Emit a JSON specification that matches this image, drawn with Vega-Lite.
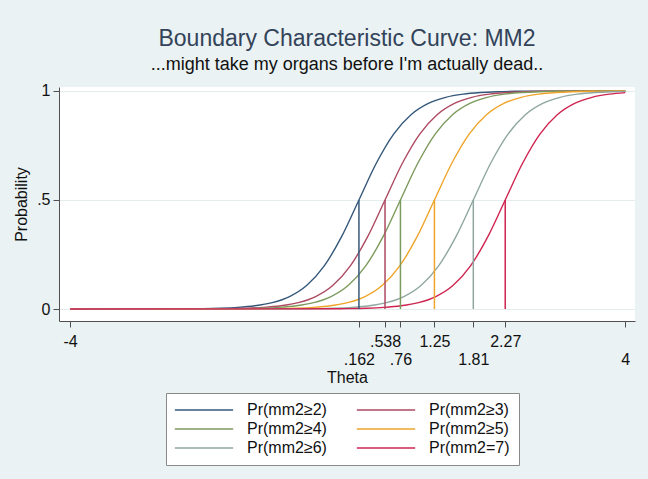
{
  "$schema": "https://vega.github.io/schema/vega-lite/v6.json",
  "autosize": {"type": "none"},
  "padding": {"left": 59, "top": 87, "right": 13, "bottom": 158},
  "width": 576,
  "height": 234,
  "background": "#eaf2f3",
  "view": {"fill": "white", "stroke": null},
  "config": {
    "font": "Liberation Sans",
    "axis": {"labelFont": "Liberation Sans", "titleFont": "Liberation Sans", "labelFontSize": 16, "titleFontSize": 16, "titleFontWeight": "normal", "labelColor": "#111111", "titleColor": "#111111", "domainColor": "#505050", "tickColor": "#505050", "tickSize": 6}
  },
  "title": {
    "text": "Boundary Characteristic Curve: MM2",
    "subtitle": "...might take my organs before I'm actually dead..",
    "anchor": "middle",
    "font": "Liberation Sans",
    "fontSize": 23,
    "fontWeight": "normal",
    "color": "#33435a",
    "subtitleFont": "Liberation Sans",
    "subtitleFontSize": 18,
    "subtitleColor": "#111111",
    "subtitlePadding": 5,
    "offset": 9
  },
  "datasets": {
    "curves": [
      {"curve": "Pr(mm2≥2)", "theta": -4, "p": 0},
      {"curve": "Pr(mm2≥2)", "theta": -2.338, "p": 0.0009},
      {"curve": "Pr(mm2≥2)", "theta": -2.088, "p": 0.0018},
      {"curve": "Pr(mm2≥2)", "theta": -1.838, "p": 0.0037},
      {"curve": "Pr(mm2≥2)", "theta": -1.588, "p": 0.0074},
      {"curve": "Pr(mm2≥2)", "theta": -1.338, "p": 0.0148},
      {"curve": "Pr(mm2≥2)", "theta": -1.088, "p": 0.0293},
      {"curve": "Pr(mm2≥2)", "theta": -0.838, "p": 0.0573},
      {"curve": "Pr(mm2≥2)", "theta": -0.588, "p": 0.1091},
      {"curve": "Pr(mm2≥2)", "theta": -0.338, "p": 0.1978},
      {"curve": "Pr(mm2≥2)", "theta": -0.088, "p": 0.3318},
      {"curve": "Pr(mm2≥2)", "theta": 0.162, "p": 0.5},
      {"curve": "Pr(mm2≥2)", "theta": 0.412, "p": 0.6682},
      {"curve": "Pr(mm2≥2)", "theta": 0.662, "p": 0.8022},
      {"curve": "Pr(mm2≥2)", "theta": 0.912, "p": 0.8909},
      {"curve": "Pr(mm2≥2)", "theta": 1.162, "p": 0.9427},
      {"curve": "Pr(mm2≥2)", "theta": 1.412, "p": 0.9707},
      {"curve": "Pr(mm2≥2)", "theta": 1.662, "p": 0.9852},
      {"curve": "Pr(mm2≥2)", "theta": 1.912, "p": 0.9926},
      {"curve": "Pr(mm2≥2)", "theta": 2.162, "p": 0.9963},
      {"curve": "Pr(mm2≥2)", "theta": 2.412, "p": 0.9982},
      {"curve": "Pr(mm2≥2)", "theta": 2.662, "p": 0.9991},
      {"curve": "Pr(mm2≥2)", "theta": 4, "p": 1.0},

      {"curve": "Pr(mm2≥3)", "theta": -4, "p": 0},
      {"curve": "Pr(mm2≥3)", "theta": -1.962, "p": 0.0009},
      {"curve": "Pr(mm2≥3)", "theta": -1.712, "p": 0.0018},
      {"curve": "Pr(mm2≥3)", "theta": -1.462, "p": 0.0037},
      {"curve": "Pr(mm2≥3)", "theta": -1.212, "p": 0.0074},
      {"curve": "Pr(mm2≥3)", "theta": -0.962, "p": 0.0148},
      {"curve": "Pr(mm2≥3)", "theta": -0.712, "p": 0.0293},
      {"curve": "Pr(mm2≥3)", "theta": -0.462, "p": 0.0573},
      {"curve": "Pr(mm2≥3)", "theta": -0.212, "p": 0.1091},
      {"curve": "Pr(mm2≥3)", "theta": 0.038, "p": 0.1978},
      {"curve": "Pr(mm2≥3)", "theta": 0.288, "p": 0.3318},
      {"curve": "Pr(mm2≥3)", "theta": 0.538, "p": 0.5},
      {"curve": "Pr(mm2≥3)", "theta": 0.788, "p": 0.6682},
      {"curve": "Pr(mm2≥3)", "theta": 1.038, "p": 0.8022},
      {"curve": "Pr(mm2≥3)", "theta": 1.288, "p": 0.8909},
      {"curve": "Pr(mm2≥3)", "theta": 1.538, "p": 0.9427},
      {"curve": "Pr(mm2≥3)", "theta": 1.788, "p": 0.9707},
      {"curve": "Pr(mm2≥3)", "theta": 2.038, "p": 0.9852},
      {"curve": "Pr(mm2≥3)", "theta": 2.288, "p": 0.9926},
      {"curve": "Pr(mm2≥3)", "theta": 2.538, "p": 0.9963},
      {"curve": "Pr(mm2≥3)", "theta": 2.788, "p": 0.9982},
      {"curve": "Pr(mm2≥3)", "theta": 3.038, "p": 0.9991},
      {"curve": "Pr(mm2≥3)", "theta": 4, "p": 0.9999},

      {"curve": "Pr(mm2≥4)", "theta": -4, "p": 0},
      {"curve": "Pr(mm2≥4)", "theta": -1.74, "p": 0.0009},
      {"curve": "Pr(mm2≥4)", "theta": -1.49, "p": 0.0018},
      {"curve": "Pr(mm2≥4)", "theta": -1.24, "p": 0.0037},
      {"curve": "Pr(mm2≥4)", "theta": -0.99, "p": 0.0074},
      {"curve": "Pr(mm2≥4)", "theta": -0.74, "p": 0.0148},
      {"curve": "Pr(mm2≥4)", "theta": -0.49, "p": 0.0293},
      {"curve": "Pr(mm2≥4)", "theta": -0.24, "p": 0.0573},
      {"curve": "Pr(mm2≥4)", "theta": 0.01, "p": 0.1091},
      {"curve": "Pr(mm2≥4)", "theta": 0.26, "p": 0.1978},
      {"curve": "Pr(mm2≥4)", "theta": 0.51, "p": 0.3318},
      {"curve": "Pr(mm2≥4)", "theta": 0.76, "p": 0.5},
      {"curve": "Pr(mm2≥4)", "theta": 1.01, "p": 0.6682},
      {"curve": "Pr(mm2≥4)", "theta": 1.26, "p": 0.8022},
      {"curve": "Pr(mm2≥4)", "theta": 1.51, "p": 0.8909},
      {"curve": "Pr(mm2≥4)", "theta": 1.76, "p": 0.9427},
      {"curve": "Pr(mm2≥4)", "theta": 2.01, "p": 0.9707},
      {"curve": "Pr(mm2≥4)", "theta": 2.26, "p": 0.9852},
      {"curve": "Pr(mm2≥4)", "theta": 2.51, "p": 0.9926},
      {"curve": "Pr(mm2≥4)", "theta": 2.76, "p": 0.9963},
      {"curve": "Pr(mm2≥4)", "theta": 3.01, "p": 0.9982},
      {"curve": "Pr(mm2≥4)", "theta": 3.26, "p": 0.9991},
      {"curve": "Pr(mm2≥4)", "theta": 4, "p": 0.9999},

      {"curve": "Pr(mm2≥5)", "theta": -4, "p": 0},
      {"curve": "Pr(mm2≥5)", "theta": -1.25, "p": 0.0009},
      {"curve": "Pr(mm2≥5)", "theta": -1.0, "p": 0.0018},
      {"curve": "Pr(mm2≥5)", "theta": -0.75, "p": 0.0037},
      {"curve": "Pr(mm2≥5)", "theta": -0.5, "p": 0.0074},
      {"curve": "Pr(mm2≥5)", "theta": -0.25, "p": 0.0148},
      {"curve": "Pr(mm2≥5)", "theta": 0.0, "p": 0.0293},
      {"curve": "Pr(mm2≥5)", "theta": 0.25, "p": 0.0573},
      {"curve": "Pr(mm2≥5)", "theta": 0.5, "p": 0.1091},
      {"curve": "Pr(mm2≥5)", "theta": 0.75, "p": 0.1978},
      {"curve": "Pr(mm2≥5)", "theta": 1.0, "p": 0.3318},
      {"curve": "Pr(mm2≥5)", "theta": 1.25, "p": 0.5},
      {"curve": "Pr(mm2≥5)", "theta": 1.5, "p": 0.6682},
      {"curve": "Pr(mm2≥5)", "theta": 1.75, "p": 0.8022},
      {"curve": "Pr(mm2≥5)", "theta": 2.0, "p": 0.8909},
      {"curve": "Pr(mm2≥5)", "theta": 2.25, "p": 0.9427},
      {"curve": "Pr(mm2≥5)", "theta": 2.5, "p": 0.9707},
      {"curve": "Pr(mm2≥5)", "theta": 2.75, "p": 0.9852},
      {"curve": "Pr(mm2≥5)", "theta": 3.0, "p": 0.9926},
      {"curve": "Pr(mm2≥5)", "theta": 3.25, "p": 0.9963},
      {"curve": "Pr(mm2≥5)", "theta": 3.5, "p": 0.9982},
      {"curve": "Pr(mm2≥5)", "theta": 3.75, "p": 0.9991},
      {"curve": "Pr(mm2≥5)", "theta": 4, "p": 0.9996},

      {"curve": "Pr(mm2≥6)", "theta": -4, "p": 0},
      {"curve": "Pr(mm2≥6)", "theta": -0.69, "p": 0.0009},
      {"curve": "Pr(mm2≥6)", "theta": -0.44, "p": 0.0018},
      {"curve": "Pr(mm2≥6)", "theta": -0.19, "p": 0.0037},
      {"curve": "Pr(mm2≥6)", "theta": 0.06, "p": 0.0074},
      {"curve": "Pr(mm2≥6)", "theta": 0.31, "p": 0.0148},
      {"curve": "Pr(mm2≥6)", "theta": 0.56, "p": 0.0293},
      {"curve": "Pr(mm2≥6)", "theta": 0.81, "p": 0.0573},
      {"curve": "Pr(mm2≥6)", "theta": 1.06, "p": 0.1091},
      {"curve": "Pr(mm2≥6)", "theta": 1.31, "p": 0.1978},
      {"curve": "Pr(mm2≥6)", "theta": 1.56, "p": 0.3318},
      {"curve": "Pr(mm2≥6)", "theta": 1.81, "p": 0.5},
      {"curve": "Pr(mm2≥6)", "theta": 2.06, "p": 0.6682},
      {"curve": "Pr(mm2≥6)", "theta": 2.31, "p": 0.8022},
      {"curve": "Pr(mm2≥6)", "theta": 2.56, "p": 0.8909},
      {"curve": "Pr(mm2≥6)", "theta": 2.81, "p": 0.9427},
      {"curve": "Pr(mm2≥6)", "theta": 3.06, "p": 0.9707},
      {"curve": "Pr(mm2≥6)", "theta": 3.31, "p": 0.9852},
      {"curve": "Pr(mm2≥6)", "theta": 3.56, "p": 0.9926},
      {"curve": "Pr(mm2≥6)", "theta": 3.81, "p": 0.9963},
      {"curve": "Pr(mm2≥6)", "theta": 4, "p": 0.9978},

      {"curve": "Pr(mm2=7)", "theta": -4, "p": 0},
      {"curve": "Pr(mm2=7)", "theta": -0.23, "p": 0.0009},
      {"curve": "Pr(mm2=7)", "theta": 0.02, "p": 0.0018},
      {"curve": "Pr(mm2=7)", "theta": 0.27, "p": 0.0037},
      {"curve": "Pr(mm2=7)", "theta": 0.52, "p": 0.0074},
      {"curve": "Pr(mm2=7)", "theta": 0.77, "p": 0.0148},
      {"curve": "Pr(mm2=7)", "theta": 1.02, "p": 0.0293},
      {"curve": "Pr(mm2=7)", "theta": 1.27, "p": 0.0573},
      {"curve": "Pr(mm2=7)", "theta": 1.52, "p": 0.1091},
      {"curve": "Pr(mm2=7)", "theta": 1.77, "p": 0.1978},
      {"curve": "Pr(mm2=7)", "theta": 2.02, "p": 0.3318},
      {"curve": "Pr(mm2=7)", "theta": 2.27, "p": 0.5},
      {"curve": "Pr(mm2=7)", "theta": 2.52, "p": 0.6682},
      {"curve": "Pr(mm2=7)", "theta": 2.77, "p": 0.8022},
      {"curve": "Pr(mm2=7)", "theta": 3.02, "p": 0.8909},
      {"curve": "Pr(mm2=7)", "theta": 3.27, "p": 0.9427},
      {"curve": "Pr(mm2=7)", "theta": 3.52, "p": 0.9707},
      {"curve": "Pr(mm2=7)", "theta": 3.77, "p": 0.9852},
      {"curve": "Pr(mm2=7)", "theta": 4, "p": 0.9922}
    ],
    "drops": [
      {"curve": "Pr(mm2≥2)", "theta": 0.162, "p0": 0, "p1": 0.5},
      {"curve": "Pr(mm2≥3)", "theta": 0.538, "p0": 0, "p1": 0.5},
      {"curve": "Pr(mm2≥4)", "theta": 0.76, "p0": 0, "p1": 0.5},
      {"curve": "Pr(mm2≥5)", "theta": 1.25, "p0": 0, "p1": 0.5},
      {"curve": "Pr(mm2≥6)", "theta": 1.81, "p0": 0, "p1": 0.5},
      {"curve": "Pr(mm2=7)", "theta": 2.27, "p0": 0, "p1": 0.5}
    ]
  },
  "encoding": {
    "x": {
      "field": "theta", "type": "quantitative",
      "scale": {"domain": [-4.16, 4.14], "nice": false, "zero": false},
      "axis": {
        "title": "Theta",
        "values": [-4, 0.162, 0.538, 0.76, 1.25, 1.81, 2.27, 4],
        "labelExpr": "datum.value == -4 ? '-4' : datum.value == 0.162 ? ['', '.162'] : datum.value == 0.538 ? '.538' : datum.value == 0.76 ? ['', '.76'] : datum.value == 1.25 ? '1.25' : datum.value == 1.81 ? ['', '1.81'] : datum.value == 2.27 ? '2.27' : ['', '4']",
        "labelOverlap": false,
        "labelFlush": false,
        "labelPadding": 6,
        "labelLineHeight": 18,
        "titlePadding": 2,
        "grid": false
      }
    },
    "color": {
      "field": "curve", "type": "nominal",
      "scale": {
        "domain": ["Pr(mm2≥2)", "Pr(mm2≥3)", "Pr(mm2≥4)", "Pr(mm2≥5)", "Pr(mm2≥6)", "Pr(mm2=7)"],
        "range": ["#35587a", "#ad4a62", "#7c9a5e", "#efa52a", "#8fa7a0", "#cf2450"]
      },
      "legend": {
        "title": null,
        "orient": "none",
        "legendX": 107,
        "legendY": 306,
        "direction": "horizontal",
        "columns": 2,
        "columnPadding": 26,
        "rowPadding": 3,
        "padding": 9,
        "fillColor": "white",
        "strokeColor": "#8a8a8a",
        "symbolType": "M-5,0H5",
        "symbolSize": 136,
        "symbolOffset": 21,
        "symbolStrokeWidth": 1.5,
        "labelFont": "Liberation Sans",
        "labelFontSize": 16,
        "labelColor": "#111111",
        "labelOffset": 35,
        "labelLimit": 200
      }
    }
  },
  "layer": [
    {
      "data": {"name": "curves"},
      "mark": {"type": "line", "strokeWidth": 1.4, "interpolate": "monotone"},
      "encoding": {
        "y": {
          "field": "p", "type": "quantitative",
          "scale": {"domain": [-0.055, 1.018], "nice": false, "zero": false},
          "axis": {
            "title": "Probability",
            "values": [0, 0.5, 1],
            "labelExpr": "datum.value == 0.5 ? '.5' : datum.value == 1 ? '1' : '0'",
            "labelAngle": 0,
            "labelPadding": 3,
            "titlePadding": 7,
            "grid": true,
            "gridColor": "#e4ecee",
            "gridWidth": 1
          }
        }
      }
    },
    {
      "data": {"name": "drops"},
      "mark": {"type": "rule", "strokeWidth": 1.5},
      "encoding": {
        "y": {"field": "p0", "type": "quantitative"},
        "y2": {"field": "p1"}
      }
    }
  ]
}
